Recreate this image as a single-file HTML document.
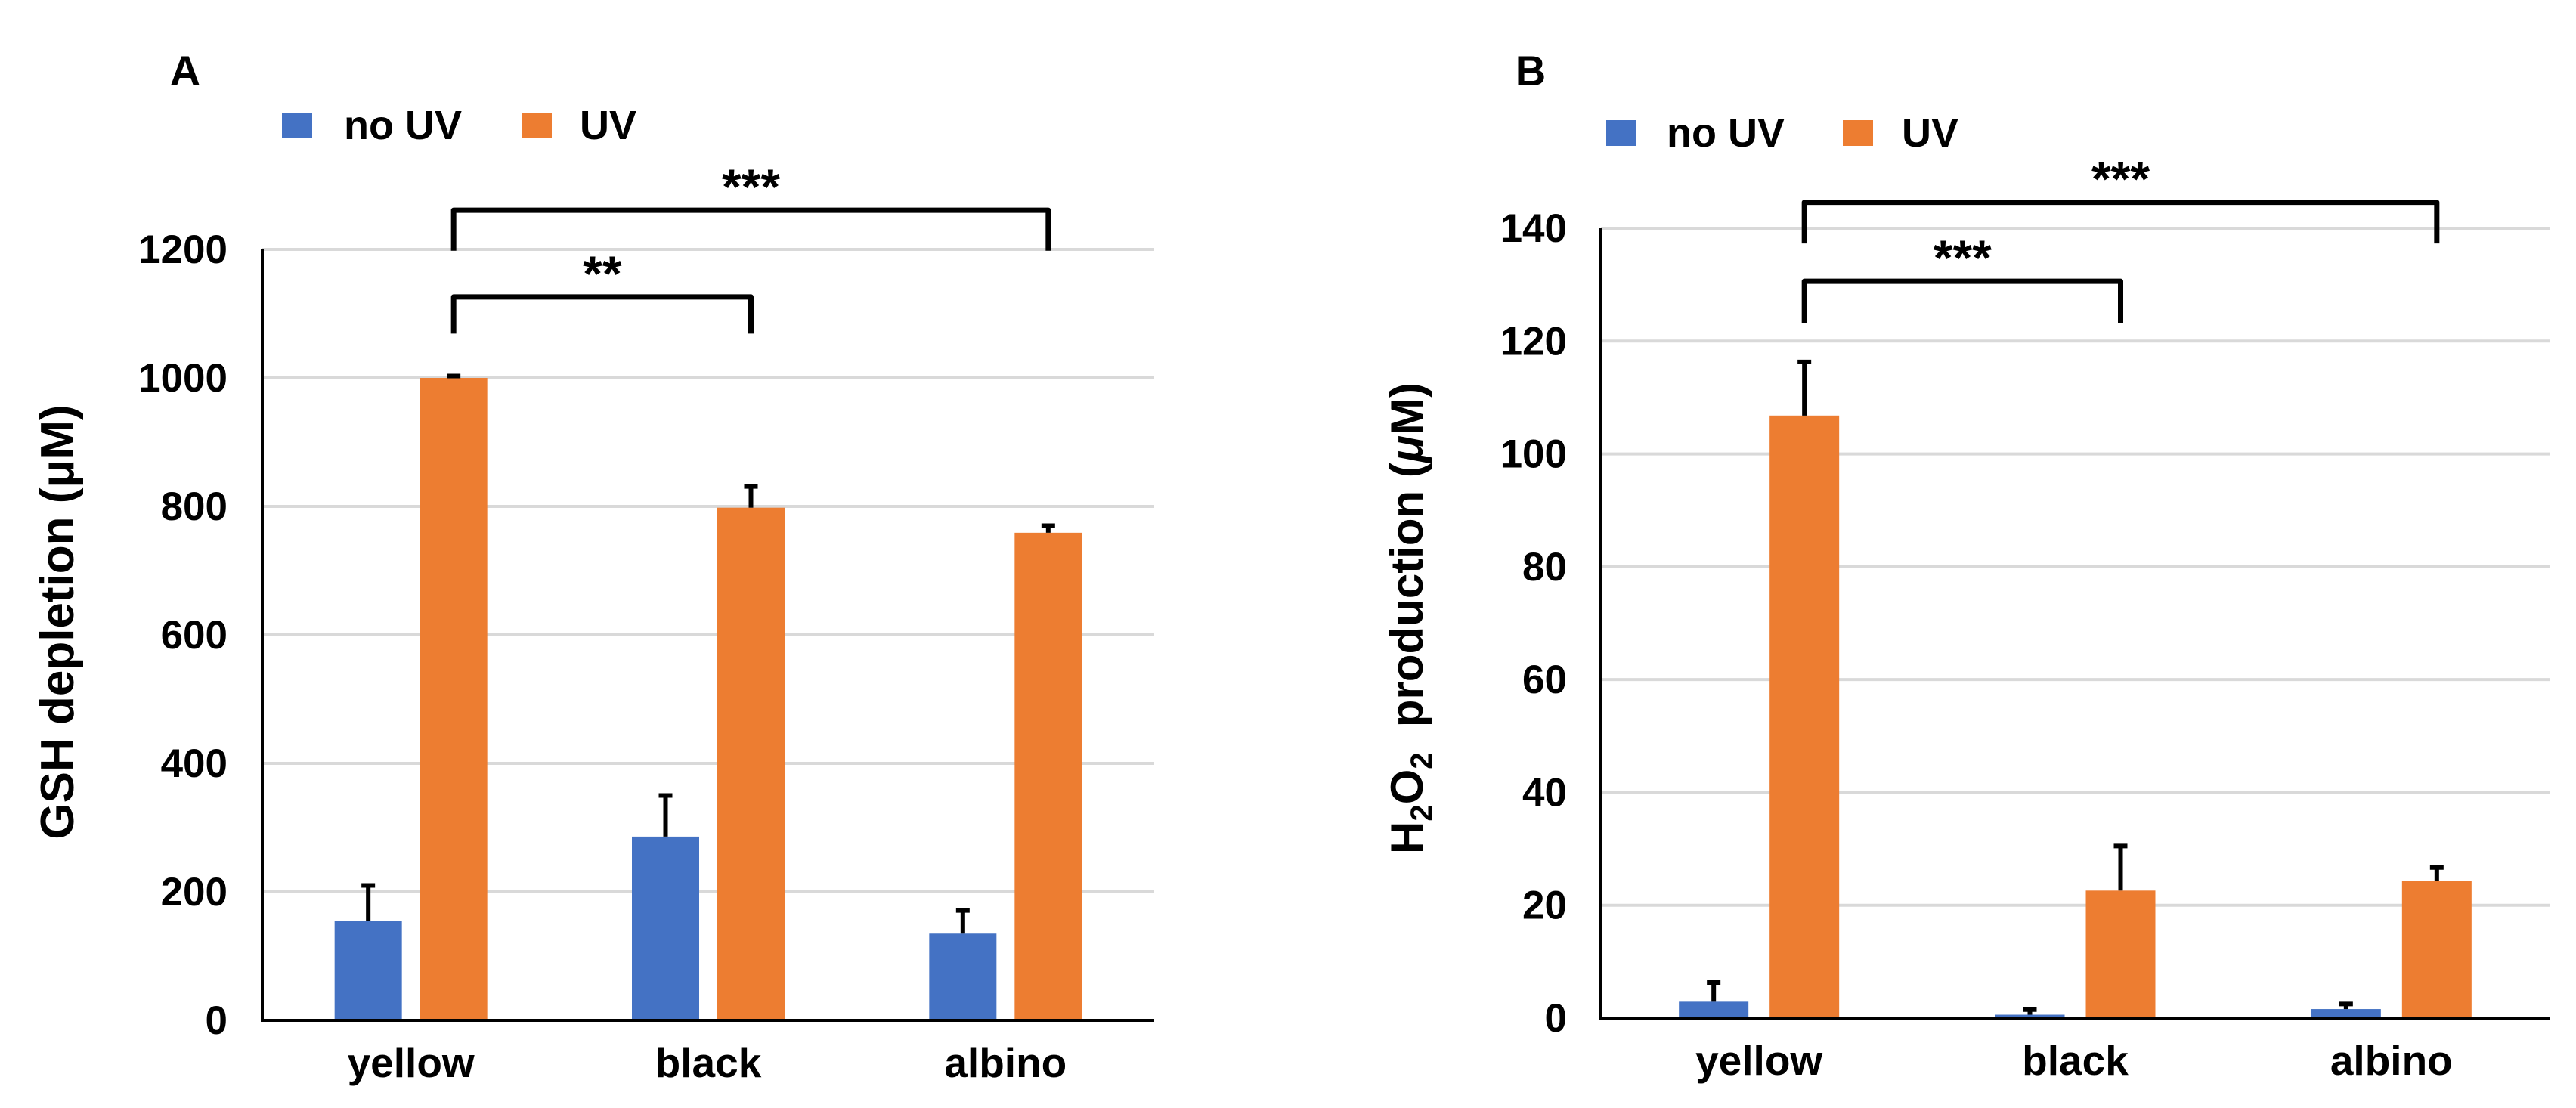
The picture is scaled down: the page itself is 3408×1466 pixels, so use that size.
<!DOCTYPE html>
<html><head><meta charset="utf-8">
<style>
html,body{margin:0;padding:0;background:#fff;}
svg{display:block;font-family:"Liberation Sans",Arial,sans-serif;font-weight:bold;}
</style></head>
<body>
<svg id="fig" width="3408" height="1466" viewBox="0 0 3408 1466" xmlns="http://www.w3.org/2000/svg">
<rect width="3408" height="1466" fill="#fff"/>
</svg>
<script>
const categories = ["yellow","black","albino"];
const gshNoUV = [155, 286, 135];
const gshNoUVErr = [55, 64, 36];
const gshUV = [1000, 798, 759];
const gshUVErr = [3, 33, 11];
const gshTicks = [0,200,400,600,800,1000,1200];
const h2o2NoUV = [2.9, 0.6, 1.6];
const h2o2NoUVErr = [3.4, 0.9, 0.9];
const h2o2UV = [106.8, 22.6, 24.3];
const h2o2UVErr = [9.5, 7.9, 2.4];
const h2o2Ticks = [0,20,40,60,80,100,120,140];
const gshBrackets = [[0,2,1261,1198,"***"],[0,1,1126,1069,"**"]];
const h2o2Brackets = [[0,2,144.6,137.3,"***"],[0,1,130.6,123.2,"***"]];

const NS="http://www.w3.org/2000/svg";
const svg=document.getElementById('fig');
function mk(tag,attrs,parent){const e=document.createElementNS(NS,tag);for(const k in attrs)e.setAttribute(k,attrs[k]);(parent||svg).appendChild(e);return e;}

function panel(cfg){
  const g=mk('g',{});
  
  
  const y=v=>cfg.y0-(v-cfg.min)/(cfg.max-cfg.min)*(cfg.y0-cfg.yTop);
  const gw=(cfg.x1-cfg.x0)/categories.length;
  const cx=i=>cfg.x0+gw*(i+0.5);
  cfg.ticks.forEach(t=>{
    if(t!==cfg.min){
      const l=mk('line',{x1:cfg.x0,x2:cfg.x1,y1:y(t),y2:y(t),stroke:'#d9d9d9','stroke-width':4},g);
      
      
    }
    const tx=mk('text',{x:cfg.tickRight,y:y(t)+18,'text-anchor':'end','font-size':53,fill:'#000'},g);
    tx.textContent=t;
    
    
  });
  const series=[[cfg.a,cfg.aErr,'#4472C4','bar-no-uv'],[cfg.b,cfg.bErr,'#ED7D31','bar-uv']];
  series.forEach((s,si)=>{
    categories.forEach((c,i)=>{
      const base=cx(i)-cfg.bw-cfg.gap/2;
      const left=si===0?base:base+cfg.bw+cfg.gap;
      const top=y(s[0][i]);
      const r=mk('rect',{x:left,y:top,width:cfg.bw,height:cfg.y0-top,fill:s[2]},g);
      
      
      const ex=left+cfg.bw/2, et=y(s[0][i]+s[1][i]);
      const e1=mk('line',{x1:ex,x2:ex,y1:top,y2:et,stroke:'#000','stroke-width':6},g);
      
      
      const e2=mk('line',{x1:ex-9,x2:ex+9,y1:et,y2:et,stroke:'#000','stroke-width':6},g);
      
      
    });
  });
  const ax=mk('path',{d:`M${cfg.x0} ${cfg.yTop}V${cfg.y0}H${cfg.x1}`,fill:'none',stroke:'#000','stroke-width':4},g);
  
  
  categories.forEach((c,i)=>{
    const t=mk('text',{x:cx(i),y:cfg.catY,'text-anchor':'middle','font-size':55},g);
    t.textContent=c;
    
    
  });
  cfg.brackets.forEach(b=>{
    const xa=cx(b[0])+cfg.bw/2+cfg.gap/2, xb=cx(b[1])+cfg.bw/2+cfg.gap/2;
    const p=mk('path',{d:`M${xa} ${y(b[3])}V${y(b[2])}H${xb}V${y(b[3])}`,fill:'none',stroke:'#000','stroke-width':7,'stroke-linejoin':'round'},g);
    
    
    const s=mk('text',{x:(xa+xb)/2,y:y(b[2])-8,'text-anchor':'middle','font-size':66},g);
    s.textContent=b[4];
    
    
  });
  return g;
}

panel({name:'panel-a-chart',x0:347,x1:1527,y0:1350,yTop:330,min:0,max:1200,ticks:gshTicks,tickRight:301,bw:89,gap:24,
  a:gshNoUV,aErr:gshNoUVErr,b:gshUV,bErr:gshUVErr,catY:1425,brackets:gshBrackets});
panel({name:'panel-b-chart',x0:2118,x1:3373,y0:1347,yTop:302,min:0,max:140,ticks:h2o2Ticks,tickRight:2073,bw:92,gap:28,
  a:h2o2NoUV,aErr:h2o2NoUVErr,b:h2o2UV,bErr:h2o2UVErr,catY:1422,brackets:h2o2Brackets});
</script>
<svg style="position:absolute;left:0;top:0" width="3408" height="1466" xmlns="http://www.w3.org/2000/svg">
<g font-family="Liberation Sans, Arial, sans-serif" font-weight="bold">
<text x="245" y="113" text-anchor="middle" font-size="56">A</text>
<text x="2025" y="113" text-anchor="middle" font-size="56">B</text>
<rect x="373" y="149" width="40" height="34" fill="#4472C4"/>
<text x="455" y="184" font-size="54">no UV</text>
<rect x="690" y="149" width="40" height="34" fill="#ED7D31"/>
<text x="767" y="184" font-size="54">UV</text>
<rect x="2125" y="159" width="39" height="34" fill="#4472C4"/>
<text x="2205" y="194" font-size="54">no UV</text>
<rect x="2438" y="159" width="40" height="34" fill="#ED7D31"/>
<text x="2516" y="194" font-size="54">UV</text>
<text transform="translate(97,823) rotate(-90)" text-anchor="middle" font-size="62">GSH depletion (μM)</text>
<text transform="translate(1882,818) rotate(-90)" text-anchor="middle" font-size="60" xml:space="preserve">H<tspan font-size="40" dy="12">2</tspan><tspan dy="-12">O</tspan><tspan font-size="40" dy="12">2</tspan><tspan dy="-12">  production (</tspan><tspan font-style="italic">μ</tspan>M)</text>
</g>
</svg>
</body></html>
